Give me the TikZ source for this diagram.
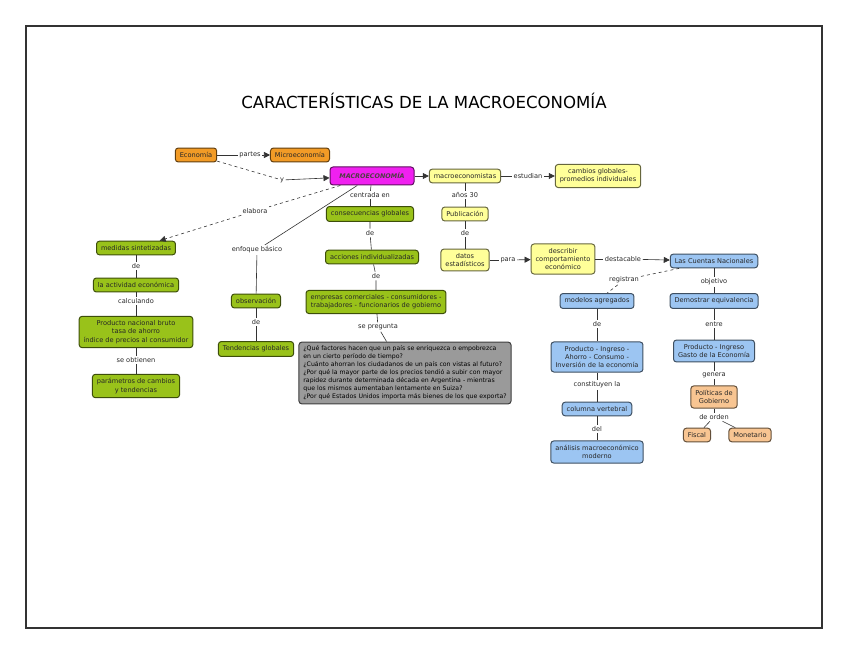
\documentclass[tikz,border=0pt]{standalone}
\usepackage{fontspec}
\setmainfont{DejaVu Sans}
\usetikzlibrary{arrows.meta}

\definecolor{ecoorange}{HTML}{F29B26}
\definecolor{macromag}{HTML}{F020F0}
\definecolor{macroyellow}{HTML}{FFFF99}
\definecolor{macrogreen}{HTML}{99C21A}
\definecolor{macroblue}{HTML}{9CC5F2}
\definecolor{macropeach}{HTML}{F8C592}
\definecolor{macrogrey}{HTML}{9A9A9A}

\tikzset{
  boxfont/.style={font=\fontsize{6.6}{8.2}\selectfont},
  concept/.style={boxfont, draw=#1!40!black, fill=#1, text=black!85,
    rounded corners=3pt, line width=1pt, align=center,
    inner xsep=4.5pt, inner ysep=4.3pt},
  linkword/.style={boxfont, text=black!85, inner sep=1.5pt},
  wire/.style={draw=black!80, line width=0.6pt},
  tipwire/.style={wire, -{Triangle[length=6pt,width=6pt]}},
}

\begin{document}
\begin{tikzpicture}[x=1pt, y=-1pt]
    % Page and frame
    \useasboundingbox (0,0) rectangle (848,655);
    \draw[line width=1.6pt, black!80] (26,26) rectangle (822,628);

    % Title
    \node[font=\fontsize{16.6}{19}\selectfont] (title) at (424,101) {CARACTERÍSTICAS DE LA MACROECONOMÍA};

    % Orange and magenta concepts
    \node[concept=ecoorange] (economia) at (196,155) {Economía};
    \node[concept=ecoorange] (micro) at (300,155) {Microeconomía};
    \node[concept=macromag, font=\bfseries\itshape\fontsize{6.4}{8}\selectfont,
          text=black!80!magenta, minimum width=84pt, minimum height=18pt] (macro) at (372,176) {MACROECONOMÍA};

    % Yellow concepts
    \node[concept=macroyellow] (macroeco) at (465,176) {macroeconomistas};
    \node[concept=macroyellow] (cambios) at (598,176) {cambios globales-\\promedios individuales};
    \node[concept=macroyellow] (publicacion) at (465,214) {Publicación};
    \node[concept=macroyellow] (datos) at (465,260) {datos\\estadísticos};
    \node[concept=macroyellow] (describir) at (563,259) {describir\\comportamiento\\económico};

    % Blue concepts
    \node[concept=macroblue] (cuentas) at (714,261) {Las Cuentas Nacionales};
    \node[concept=macroblue] (modelos) at (597,301) {modelos agregados};
    \node[concept=macroblue] (agregados) at (597,357) {Producto - Ingreso -\\Ahorro - Consumo -\\Inversión de la economía};
    \node[concept=macroblue] (columna) at (597,409) {columna vertebral};
    \node[concept=macroblue] (analisis) at (597,452) {análisis macroeconómico\\moderno};
    \node[concept=macroblue] (equivalencia) at (714,301) {Demostrar equivalencia};
    \node[concept=macroblue] (gasto) at (714,351) {Producto - Ingreso\\Gasto de la Economía};

    % Peach concepts
    \node[concept=macropeach] (politicas) at (714,397) {Políticas de\\Gobierno};
    \node[concept=macropeach] (fiscal) at (697,435) {Fiscal};
    \node[concept=macropeach] (monetario) at (750,435) {Monetario};

    % Green concepts
    \node[concept=macrogreen] (consecuencias) at (370,214) {consecuencias globales};
    \node[concept=macrogreen] (acciones) at (372,257) {acciones individualizadas};
    \node[concept=macrogreen] (empresas) at (376,302) {empresas comerciales - consumidores -\\trabajadores - funcionarios de gobierno};
    \node[concept=macrogreen] (medidas) at (136,248) {medidas sintetizadas};
    \node[concept=macrogreen] (actividad) at (136,285) {la actividad económica};
    \node[concept=macrogreen] (pnb) at (136,332) {Producto nacional bruto\\tasa de ahorro\\índice de precios al consumidor};
    \node[concept=macrogreen] (parametros) at (136,386) {parámetros de cambios\\y tendencias};
    \node[concept=macrogreen] (observacion) at (256,301) {observación};
    \node[concept=macrogreen] (tendencias) at (256,349) {Tendencias globales};

    % Grey question box
    \node[concept=macrogrey, font=\fontsize{6.2}{8}\selectfont, align=left, text=black,
          inner ysep=3.8pt] (preguntas) at (405,373) {¿Qué factores hacen que un país se enriquezca o empobrezca\\
      en un cierto período de tiempo?\\
      ¿Cuánto ahorran los ciudadanos de un país con vistas al futuro?\\
      ¿Por qué la mayor parte de los precios tendió a subir con mayor\\
      rapidez durante determinada década en Argentina - mientras\\
      que los mismos aumentaban lentamente en Suiza?\\
      ¿Por qué Estados Unidos importa más bienes de los que exporta?};

    % Linking words
    \node[linkword] (partes) at (250,155) {partes};
    \node[linkword] (ylink) at (282,180) {y};
    \node[linkword] (elabora) at (255,211) {elabora};
    \node[linkword] (enfoque) at (257,250) {enfoque básico};
    \node[linkword] (centrada) at (370,195) {centrada en};
    \node[linkword] (deacc) at (370,233) {de};
    \node[linkword] (deemp) at (376,276) {de};
    \node[linkword] (sepregunta) at (378,327) {se pregunta};
    \node[linkword] (estudian) at (528,176) {estudian};
    \node[linkword] (anos) at (465,195) {años 30};
    \node[linkword] (depub) at (465,233) {de};
    \node[linkword] (para) at (508,260) {para};
    \node[linkword] (destacable) at (623,259) {destacable};
    \node[linkword] (registran) at (624,280) {registran};
    \node[linkword] (demod) at (597,324) {de};
    \node[linkword] (constituyen) at (597,385) {constituyen la};
    \node[linkword] (del) at (597,429) {del};
    \node[linkword] (objetivo) at (714,282) {objetivo};
    \node[linkword] (entre) at (714,324) {entre};
    \node[linkword] (genera) at (714,375) {genera};
    \node[linkword] (deorden) at (714,417) {de orden};
    \node[linkword] (demed) at (136,266) {de};
    \node[linkword] (calculando) at (136,301) {calculando};
    \node[linkword] (seobtienen) at (136,360) {se obtienen};
    \node[linkword] (deobs) at (256,322) {de};

    % Connectors around MACROECONOMIA
    \draw[wire] (economia) -- (partes);
    \draw[tipwire] (partes) -- (micro);
    \draw[wire, dashed] (economia) -- (ylink);
    \draw[tipwire] (ylink) -- (macro);
    \draw[tipwire] (macro) -- (macroeco);
    \draw[wire, dashed] (macro) -- (elabora);
    \draw[tipwire, dashed] (elabora) -- (medidas);
    \draw[wire] (macro) -- (enfoque);
    \draw[wire] (enfoque) -- (observacion);
    \draw[wire] (macro) -- (centrada);
    \draw[wire] (centrada) -- (consecuencias);

    % Green chains
    \draw[wire] (consecuencias) -- (deacc) -- (acciones);
    \draw[wire] (acciones) -- (deemp) -- (empresas);
    \draw[wire] (empresas) -- (sepregunta) -- (preguntas);
    \draw[wire] (medidas) -- (demed) -- (actividad);
    \draw[wire] (actividad) -- (calculando) -- (pnb);
    \draw[wire] (pnb) -- (seobtienen) -- (parametros);
    \draw[wire] (observacion) -- (deobs) -- (tendencias);

    % Yellow chains
    \draw[wire] (macroeco) -- (estudian);
    \draw[tipwire] (estudian) -- (cambios);
    \draw[wire] (macroeco) -- (anos) -- (publicacion);
    \draw[wire] (publicacion) -- (depub) -- (datos);
    \draw[wire] (datos) -- (para);
    \draw[tipwire] (para) -- (describir);
    \draw[wire] (describir) -- (destacable);
    \draw[tipwire] (destacable) -- (cuentas);

    % Blue and peach chains
    \draw[wire, dashed] (cuentas) -- (registran) -- (modelos);
    \draw[wire] (modelos) -- (demod) -- (agregados);
    \draw[wire] (agregados) -- (constituyen) -- (columna);
    \draw[wire] (columna) -- (del) -- (analisis);
    \draw[wire] (cuentas) -- (objetivo) -- (equivalencia);
    \draw[wire] (equivalencia) -- (entre) -- (gasto);
    \draw[wire] (gasto) -- (genera) -- (politicas);
    \draw[wire] (politicas) -- (deorden);
    \draw[wire] (deorden) -- (fiscal);
    \draw[wire] (deorden) -- (monetario);
\end{tikzpicture}
\end{document}
